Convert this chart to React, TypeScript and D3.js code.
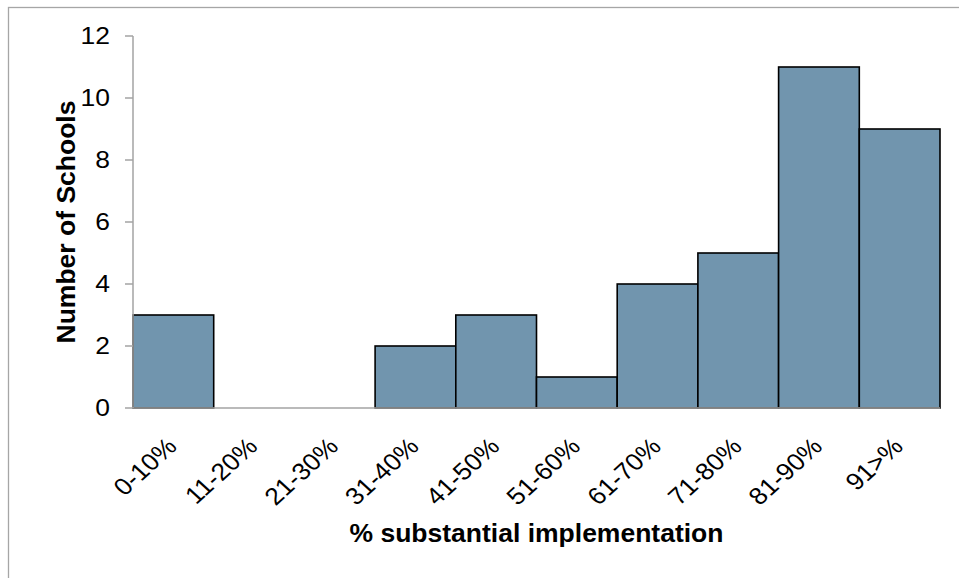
import React from "react";
import * as d3 from "d3";

const categories = ["0-10%", "11-20%", "21-30%", "31-40%", "41-50%", "51-60%", "61-70%", "71-80%", "81-90%", "91>%"];
const schoolCounts = [3, 0, 0, 2, 3, 1, 4, 5, 11, 9];
const yTicks = [0, 2, 4, 6, 8, 10, 12];
const xTitle = "% substantial implementation";
const yTitle = "Number of Schools";

const W = 959;
const H = 578;
const left = 133;
const right = 940;
const top = 36;
const bottom = 408;
const axisColor = "#a3a3a3";
const barFill = "#7195ae";
const fontFamily = "'Liberation Sans', Arial, Helvetica, sans-serif";

export default function App() {
  const x = d3.scaleBand<string>().domain(categories).range([left, right]).paddingInner(0).paddingOuter(0);
  const y = d3.scaleLinear().domain([0, 12]).range([bottom, top]);

  return (
    <svg
      width={W}
      height={H}
      viewBox={`0 0 ${W} ${H}`}
      style={{ position: "absolute", left: 0, top: 0, background: "#fff" }}
      fontFamily={fontFamily}
    >
      <rect x={0} y={0} width={W} height={H} fill="#fff" />
      {/* outer chart border */}
      <rect x={8.5} y={7.5} width={W + 20} height={H + 20} fill="none" stroke="#a6a6a6" strokeWidth={1.3} />

      {/* bars */}
      {categories.map((c, i) =>
        schoolCounts[i] > 0 ? (
          <rect
            key={c}
            x={x(c)!}
            y={y(schoolCounts[i])}
            width={x.bandwidth()}
            height={y(0) - y(schoolCounts[i])}
            fill={barFill}
            stroke="#000"
            strokeWidth={1.6}
          />
        ) : null
      )}

      {/* y axis */}
      <line x1={left} x2={left} y1={top} y2={bottom} stroke={axisColor} strokeWidth={1.5} />
      {yTicks.map((t) => (
        <g key={t}>
          <line x1={left - 8} x2={left} y1={y(t)} y2={y(t)} stroke={axisColor} strokeWidth={1.5} />
          <text
            transform={`translate(110,${y(t)}) scale(1.15,1)`}
            dy="0.36em"
            textAnchor="end"
            fontSize={23}
            fill="#000"
          >
            {t}
          </text>
        </g>
      ))}

      {/* x axis */}
      <line x1={left} x2={right} y1={bottom} y2={bottom} stroke={axisColor} strokeWidth={1.5} />
      {categories.map((c) => {
        const cx = x(c)! + x.bandwidth() / 2 + 5;
        return (
          <text
            key={c}
            transform={`translate(${cx},${bottom + 40}) scale(1.1,1) rotate(-45)`}
            textAnchor="end"
            fontSize={24}
            fill="#000"
          >
            {c}
          </text>
        );
      })}

      {/* titles */}
      <text x={(left + right) / 2} y={542} textAnchor="middle" fontSize={26.5} fontWeight="bold" fill="#000">
        {xTitle}
      </text>
      <text
        transform={`translate(75,${(top + bottom) / 2}) rotate(-90)`}
        textAnchor="middle"
        fontSize={26.5}
        fontWeight="bold"
        fill="#000"
      >
        {yTitle}
      </text>
    </svg>
  );
}
